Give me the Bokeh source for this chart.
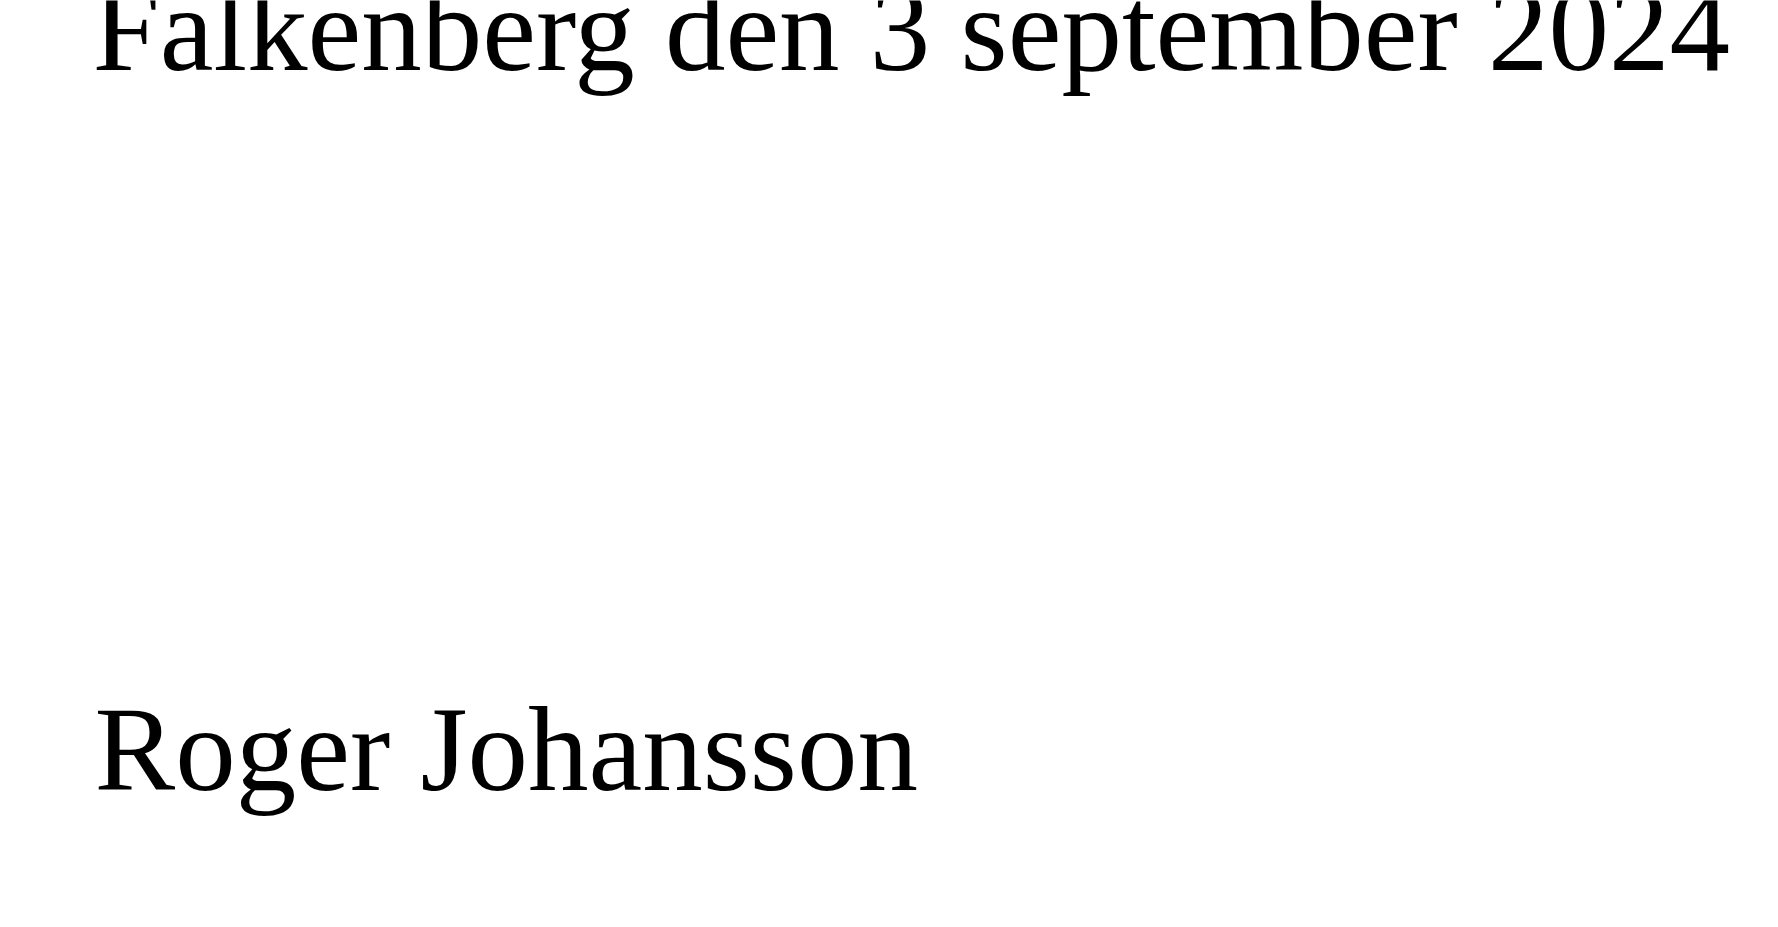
from bokeh.plotting import figure
from bokeh.models import Range1d, ColumnDataSource
from bokeh.core.properties import value
from bokeh.embed import file_html
from bokeh.resources import INLINE

# Typed text lines of the document (the handwritten signature is intentionally not reproduced)
lines = ["Falkenberg den 3 september 2024", "Roger Johansson"]
line_x = [92, 94]
line_y = [28, 748]

W, H = 1762, 911
p = figure(width=W, height=H, output_backend="svg", toolbar_location=None,
           x_range=Range1d(0, W), y_range=Range1d(H, 0),
           min_border=0, background_fill_color="white", border_fill_color="white")
p.axis.visible = False
p.grid.visible = False
p.outline_line_color = None

src = ColumnDataSource(dict(x=line_x, y=line_y, t=lines))
p.text(x="x", y="y", text="t", source=src,
       text_font=value("Liberation Serif"), text_font_size="121px",
       text_baseline="alphabetic", text_align="left", text_color="black")

open("out.html", "w").write(file_html(p, INLINE))
